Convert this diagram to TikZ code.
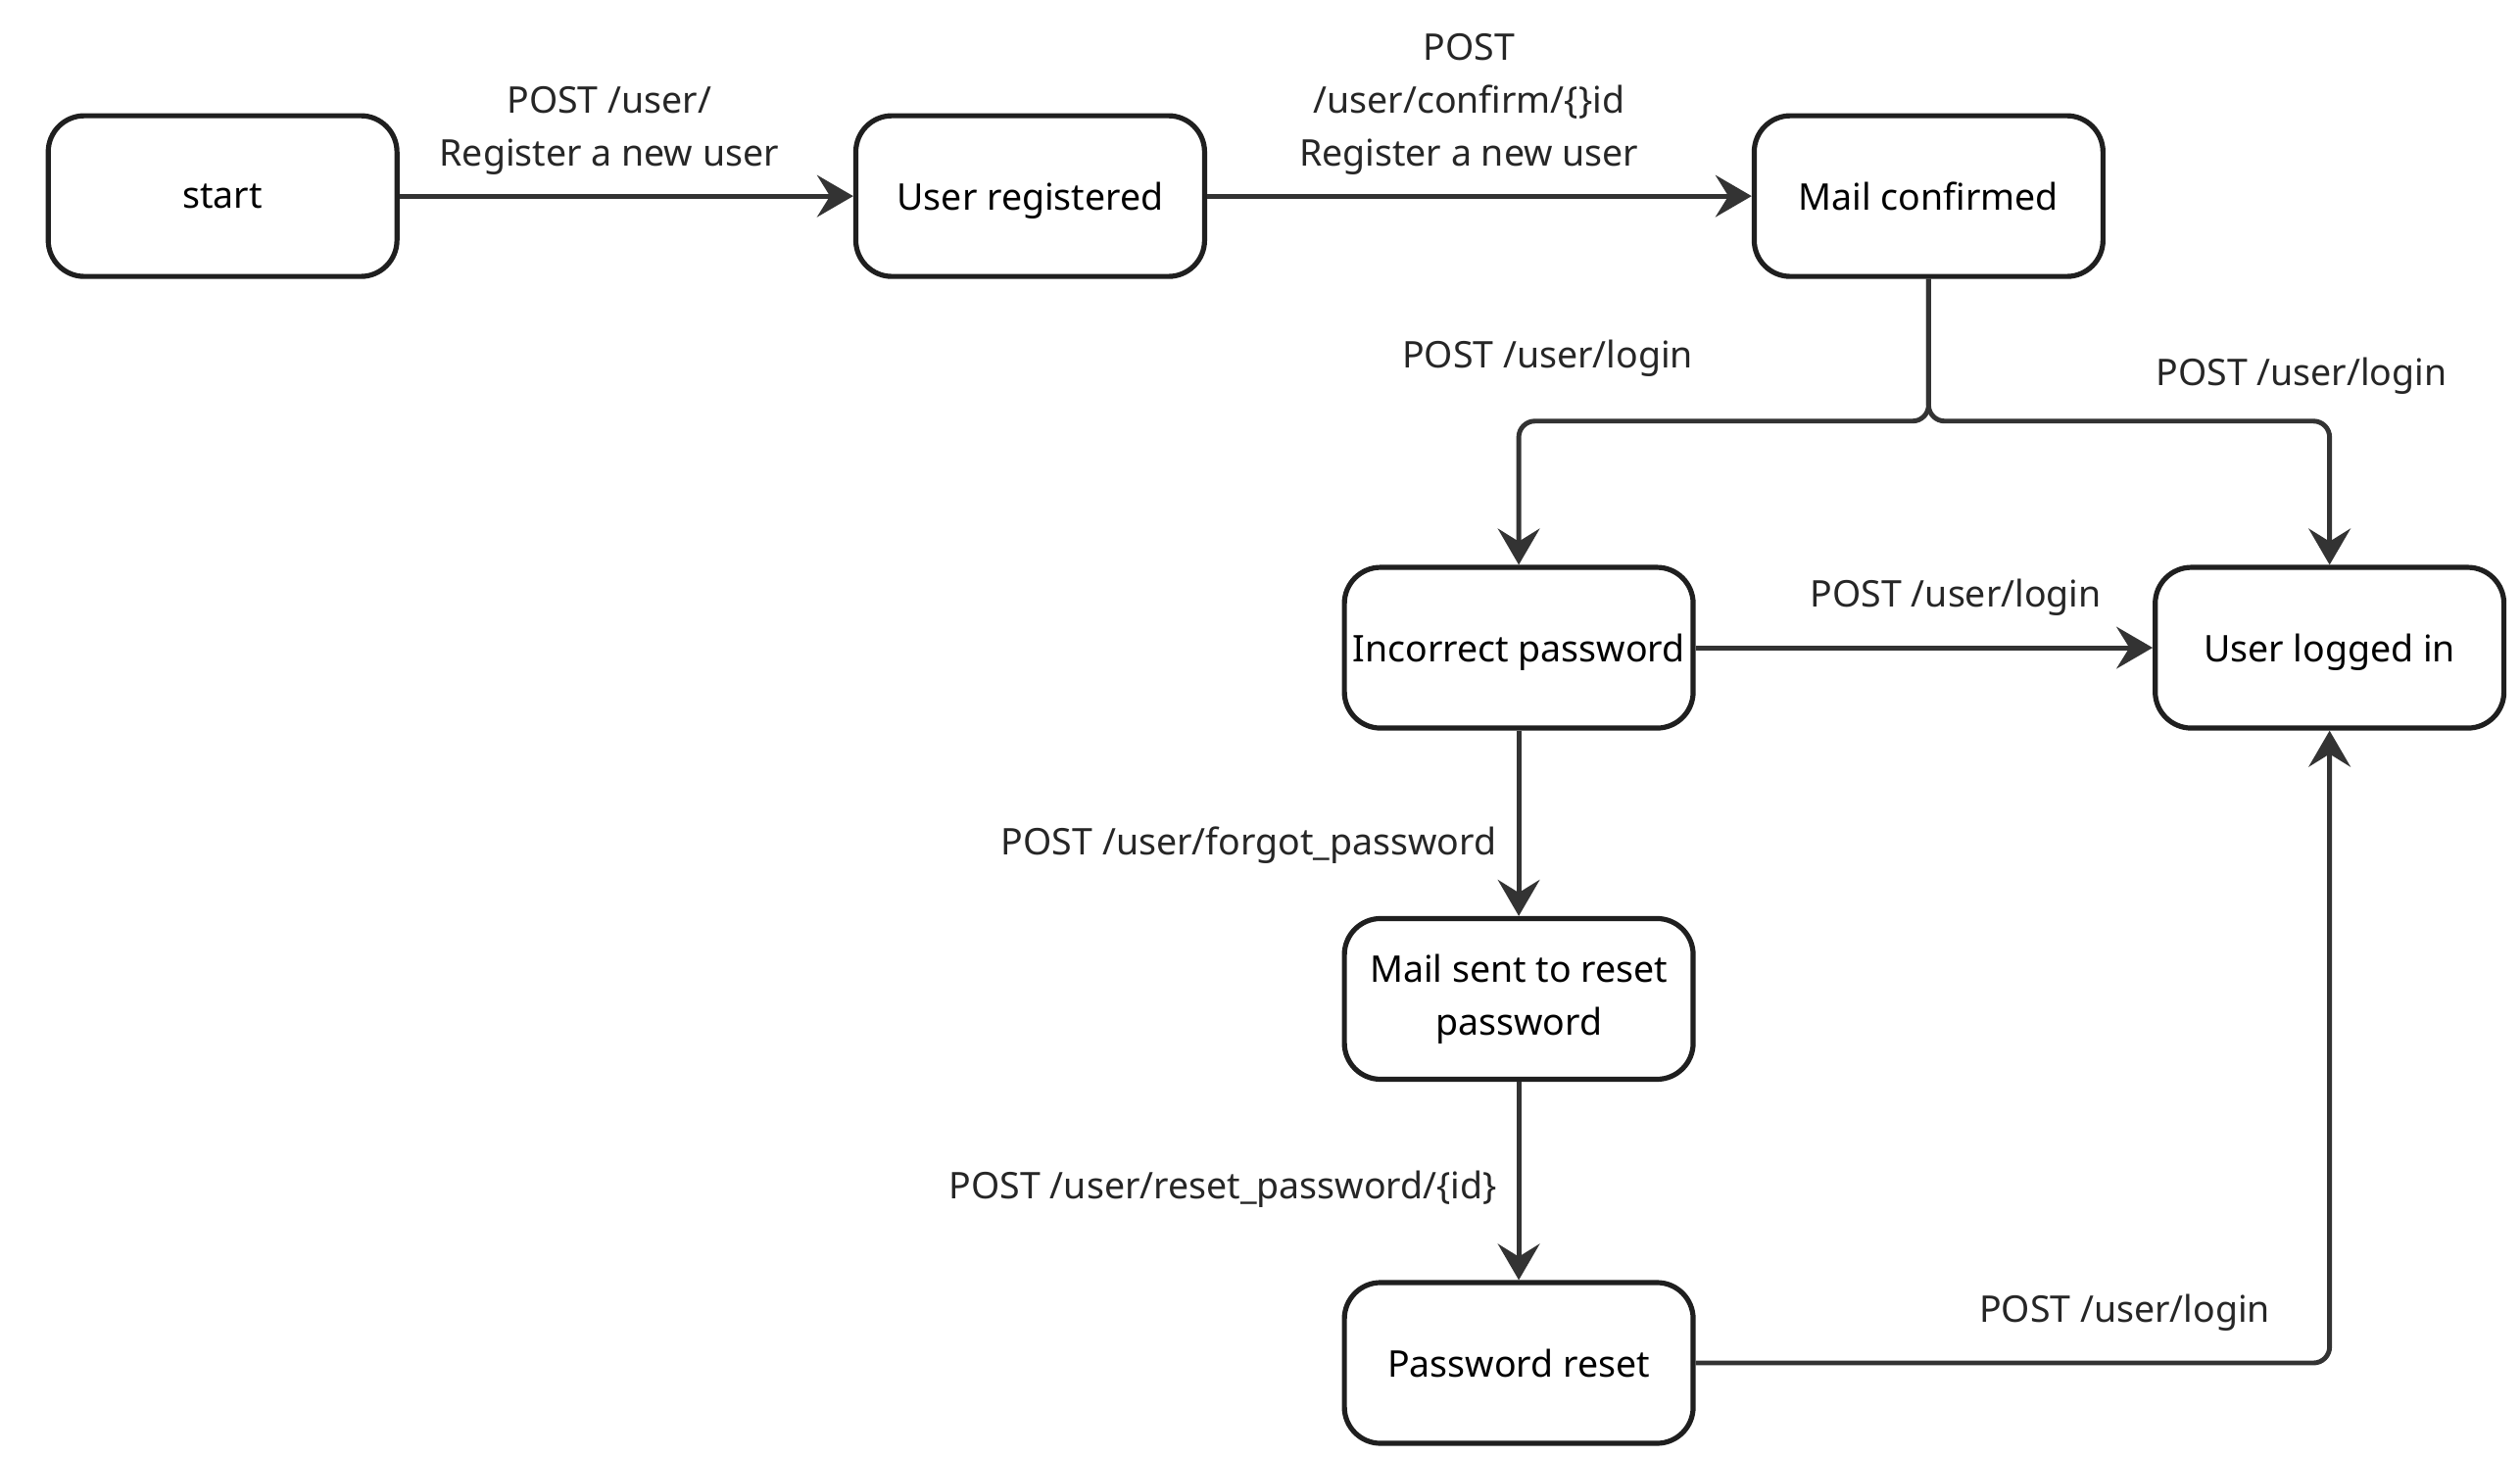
\documentclass[tikz,border=0pt]{standalone}
\usepackage{fontspec}
\setmainfont{Noto Sans}
\usetikzlibrary{positioning,arrows.meta}
\definecolor{inkgray}{HTML}{333333}
\tikzset{
  flowarrow/.style={-{Stealth[length=4.5mm, width=5.2mm, inset=1.6mm]}, line width=1.7pt, draw=inkgray},
  bentarrow/.style={flowarrow, rounded corners=2mm},
  statebox2/.style={draw=black!88, rounded corners=4.5mm, line width=1.8pt, minimum width=4.34cm, minimum height=2cm, inner sep=1pt, align=center, fill=white},
  statebox/.style={statebox2, text depth=0pt},
  relabel/.style={align=center, text=black!85, inner sep=1pt}
}

\begin{document}
\begin{tikzpicture}[>=Stealth, every node/.style={font=\fontsize{13}{18.8}\selectfont}]
  \useasboundingbox (0,0) rectangle (31.36,-18.12);
  % states
  \node[statebox] (start) at (2.77,-2.44) {start};
  \node[statebox] (registered) at (12.82,-2.44) {User registered};
  \node[statebox] (mailok) at (24.0,-2.44) {Mail confirmed};
  \node[statebox] (wrongpw) at (18.9,-8.06) {Incorrect password};
  \node[statebox] (loggedin) at (28.99,-8.06) {User logged in};
  \node[statebox2] (mailsent) at (18.9,-12.43) {Mail sent to reset\\password};
  \node[statebox] (pwreset) at (18.9,-16.96) {Password reset};
  % transitions
  \coordinate (split) at (24.0,-5.24);
  \draw[flowarrow] (start) -- (registered);
  \draw[flowarrow] (registered) -- (mailok);
  \draw[bentarrow] (mailok.south) -- (split) -| (wrongpw.north);
  \draw[bentarrow] (mailok.south) -- (split) -| (loggedin.north);
  \draw[flowarrow] (wrongpw) -- (loggedin);
  \draw[flowarrow] (wrongpw) -- (mailsent);
  \draw[flowarrow] (mailsent) -- (pwreset);
  \draw[bentarrow] (pwreset.east) -| (loggedin.south);
  % labels
  \node[relabel] (lregister) at (7.58,-1.63) {POST /user/\\Register a new user};
  \node[relabel] (lconfirm) at (18.28,-1.3) {POST\\/user/confirm/\{\}id\\Register a new user};
  \node[relabel] (lloginleft) at (19.26,-4.46) {POST /user/login};
  \node[relabel] (lloginright) at (28.64,-4.68) {POST /user/login};
  \node[relabel] (lloginmid) at (24.34,-7.44) {POST /user/login};
  \node[relabel] (lforgot) at (15.54,-10.52) {POST /user/forgot\_password};
  \node[relabel] (lreset) at (15.22,-14.8) {POST /user/reset\_password/\{id\}};
  \node[relabel] (lloginbottom) at (26.44,-16.34) {POST /user/login};
\end{tikzpicture}
\end{document}
